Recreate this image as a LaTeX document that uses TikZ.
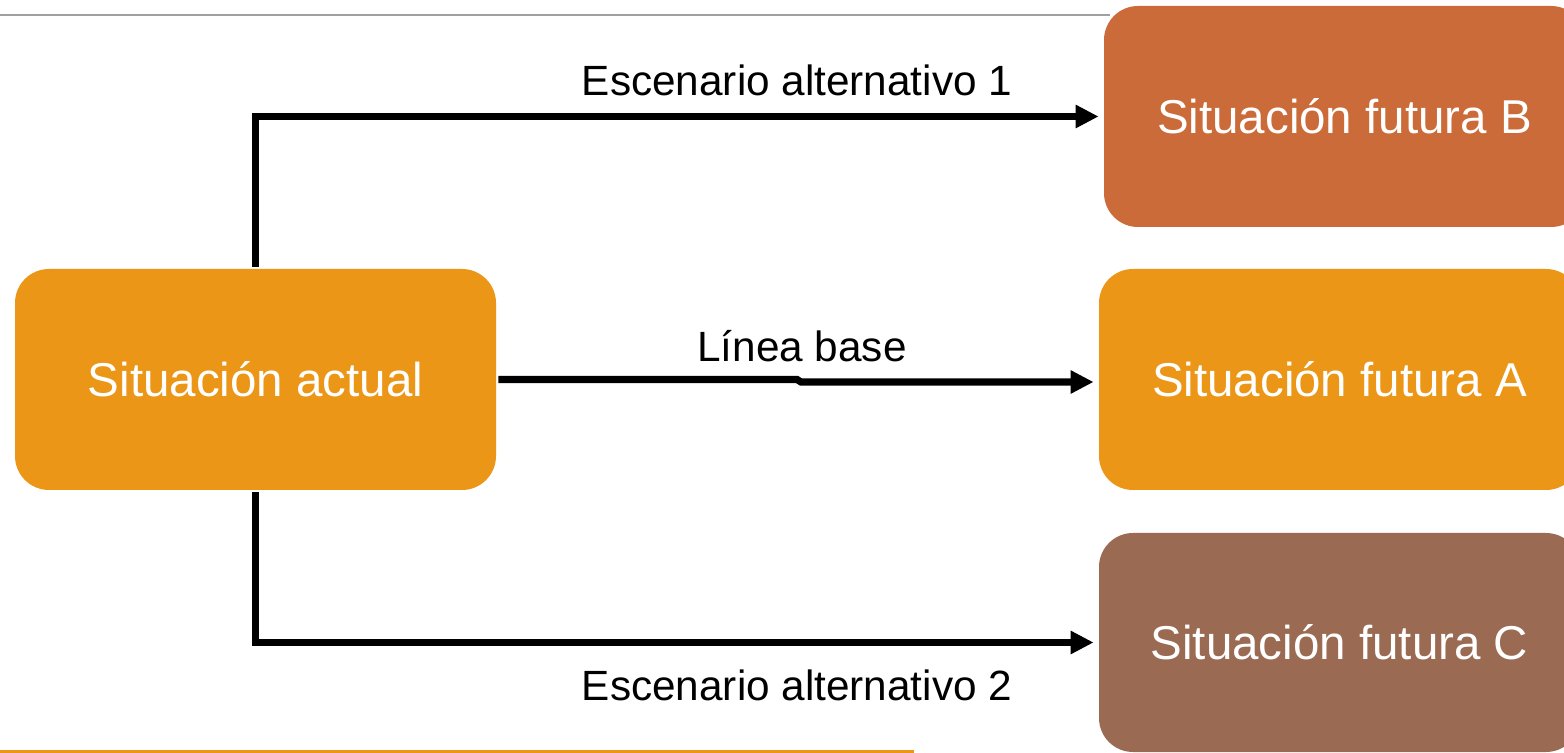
\documentclass[tikz,border=0pt]{standalone}
\usepackage{fontspec}
\setmainfont{Liberation Sans}
\usetikzlibrary{arrows.meta}
\definecolor{cOrange}{HTML}{EB9616}
\definecolor{cRust}{HTML}{CB6B3A}
\definecolor{cBrown}{HTML}{9A6A52}
\definecolor{cGray}{HTML}{A0A0A0}
\begin{document}
\begin{tikzpicture}[x=0.5pt,y=-0.5pt,
  box/.style={rounded corners=17pt, draw=none, text=white, minimum width=240.5pt,
    font=\fontsize{23.75}{28}\selectfont, inner sep=0pt},
  conn/.style={line width=3.6pt, -{Triangle[length=11.5pt,width=11pt]}, shorten >=2.5pt, shorten <=1pt},
  lbl/.style={font=\fontsize{21.15}{25}\selectfont, inner sep=0pt}]
\useasboundingbox (0,0) rectangle (1564,753);
\clip (0,0) rectangle (1564,753);
\fill[white] (0,0) rectangle (1564,753);
% rules
\coordinate (tl) at (0,15);
\coordinate (tr) at (1110,15);
\draw[cGray, line width=1pt] (tl) -- (tr);
\coordinate (bl) at (0,751.5);
\coordinate (br) at (914,751.5);
\draw[cOrange, line width=1.8pt] (bl) -- (br);
% boxes
\node[box, fill=cOrange, minimum height=110.5pt] (act) at (255.5,379.5) {Situación actual};
\node[box, fill=cRust, minimum height=110.5pt] (B) at (1344.5,116.5) {Situación futura B};
\node[box, fill=cOrange, minimum height=110.5pt] (A) at (1339.5,379.5) {Situación futura A};
\node[box, fill=cBrown, minimum height=109.5pt] (C) at (1339.5,642.5) {Situación futura C};
% connectors
\draw[conn] (act.north) |- (B.west);
\coordinate (k1) at (797,379.5);
\coordinate (k2) at (801,382);
\draw[conn] (act.east) -- (k1) -- (k2) -- (A.west |- k2);
\draw[conn] (act.south) |- (C.west);
% labels
\node[lbl] (l1) at (797,80) {Escenario alternativo 1};
\node[lbl] (l2) at (802,346) {Línea base};
\node[lbl] (l3) at (797,685) {Escenario alternativo 2};
\end{tikzpicture}
\end{document}
